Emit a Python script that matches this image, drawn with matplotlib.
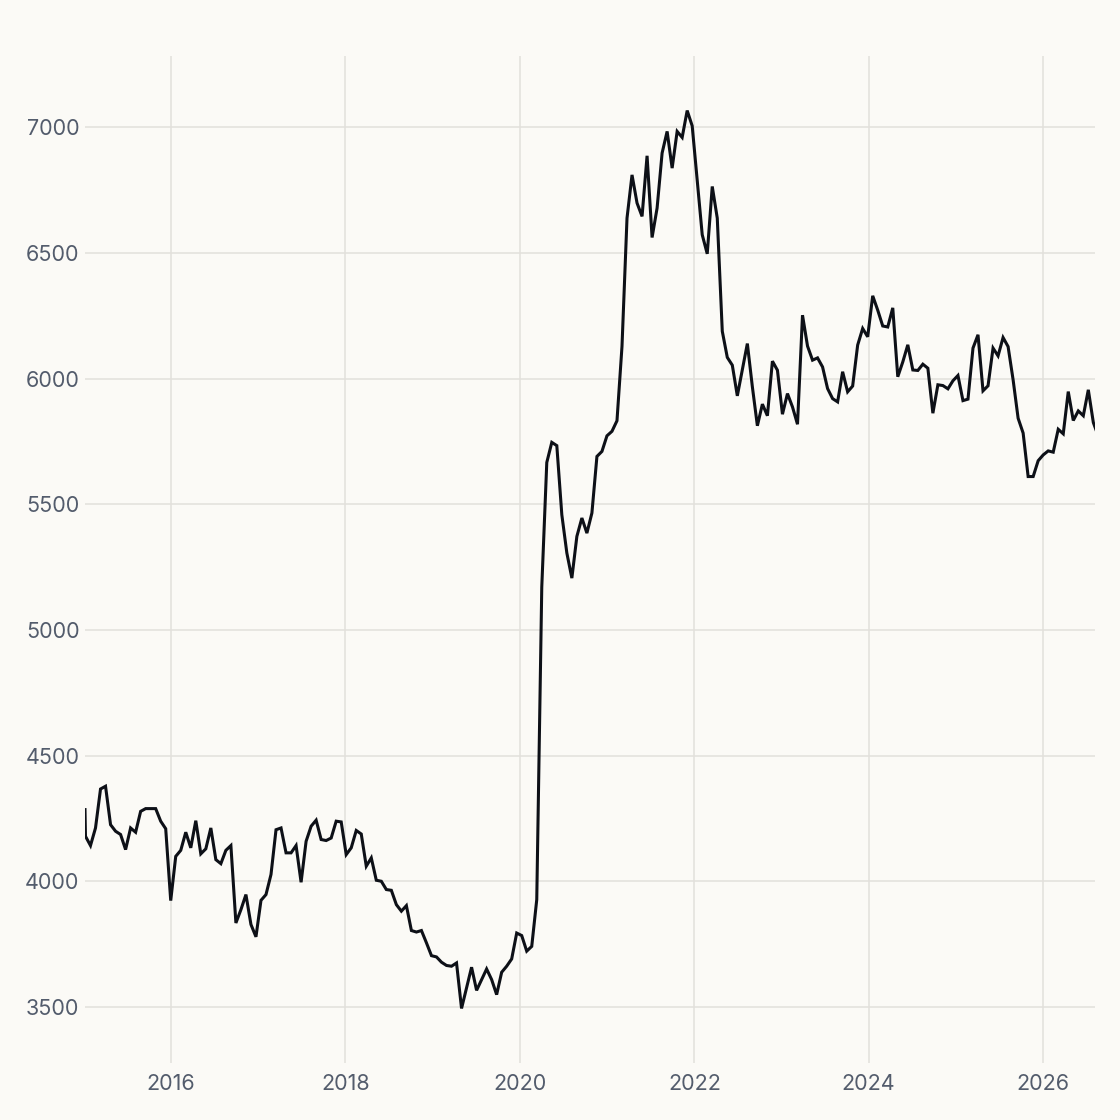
import pandas as pd
import matplotlib
matplotlib.use("Agg")
from matplotlib import pyplot as plt
import matplotlib.dates as mdates

plt.rcParams['font.family'] = ['Inter', 'DejaVu Sans']

# values, one point every 3 weeks
start_date = '2015-01-08'
step = '21D'
edge_date = '2015-01-06'   # point sitting on the left edge
edge_value = 4285

vals_2015_2017 = [4179, 4142, 4212, 4367, 4378, 4225, 4199, 4186, 4126, 4212,
                  4195, 4278, 4289, 4289, 4289, 4239, 4209, 3923, 4099, 4123,
                  4195, 4133, 4241, 4109, 4129, 4212, 4086, 4070, 4123, 4142,
                  3834, 3887, 3947, 3828, 3779, 3924, 3947, 4027, 4205, 4212,
                  4113, 4113, 4142, 3996, 4159, 4219, 4243, 4166, 4162, 4172,
                  4239, 4236]
vals_2018_2020 = [4106, 4133, 4202, 4188, 4060, 4093, 4004, 4000, 3967, 3964,
                  3907, 3881, 3903, 3804, 3798, 3804, 3755, 3704, 3699, 3678,
                  3665, 3662, 3675, 3494, 3576, 3658, 3566, 3609, 3651, 3609,
                  3549, 3638, 3662, 3691, 3794, 3784, 3722, 3741, 3927, 5170]
vals_2020_2022 = [5666, 5746, 5733, 5458, 5306, 5206, 5372, 5445, 5385, 5465,
                  5690, 5710, 5772, 5790, 5832, 6128, 6638, 6810, 6698, 6645,
                  6886, 6561, 6678, 6897, 6983, 6837, 6983, 6959, 7066, 7005,
                  6790, 6572, 6496, 6764, 6638]
vals_2022_2024 = [6188, 6084, 6053, 5931, 6036, 6139, 5967, 5812, 5898, 5852,
                  6069, 6033, 5858, 5940, 5887, 5818, 6252, 6129, 6073, 6082,
                  6046, 5960, 5920, 5907, 6027, 5947, 5970, 6133, 6199, 6166,
                  6329, 6272, 6209, 6205, 6281, 6007, 6066]
vals_2024_2026 = [6134, 6034, 6032, 6057, 6041, 5862, 5975, 5972, 5959, 5991,
                  6012, 5912, 5918, 6121, 6174, 5951, 5971, 6121, 6090, 6163,
                  6127, 5995, 5842, 5783, 5610, 5610, 5673, 5696, 5712, 5707,
                  5798, 5780, 5948, 5833, 5871, 5852, 5955, 5825, 5770]

y_ticks = [3500, 4000, 4500, 5000, 5500, 6000, 6500, 7000]
x_range = ['2015-01-06', '2026-08-06']
y_range = [3277, 7283]

values = vals_2015_2017 + vals_2018_2020 + vals_2020_2022 + vals_2022_2024 + vals_2024_2026
dates = pd.date_range(start_date, periods=len(values), freq=step)
df = pd.DataFrame({'date': dates, 'value': values})
edge = pd.DataFrame({'date': [pd.Timestamp(edge_date)], 'value': [edge_value]})
df = pd.concat([edge, df], ignore_index=True)

bg = '#fbfaf6'
fig = plt.figure(figsize=(11.2, 11.2), dpi=100, facecolor=bg)
ax = fig.add_axes([85 / 1120, 1 - 1063 / 1120, 1010 / 1120, 1007 / 1120])
ax.set_facecolor(bg)

ax.plot(df['date'], df['value'], color='#0d1017', lw=2.2, solid_joinstyle='miter')

ax.set_xlim(pd.Timestamp(x_range[0]), pd.Timestamp(x_range[1]))
ax.set_ylim(y_range)
ax.set_yticks(y_ticks)
ax.xaxis.set_major_locator(mdates.YearLocator(2))
ax.xaxis.set_major_formatter(mdates.DateFormatter('%Y'))

ax.grid(True, color='#e2e0db', lw=1.1)
ax.set_axisbelow(True)
for s in ax.spines.values():
    s.set_visible(False)
ax.tick_params(axis='both', length=0, labelsize=15.5, labelcolor='#535c6c')
ax.tick_params(axis='y', pad=4)
ax.tick_params(axis='x', pad=8)

fig.savefig('out.png', dpi=100, facecolor=bg)
